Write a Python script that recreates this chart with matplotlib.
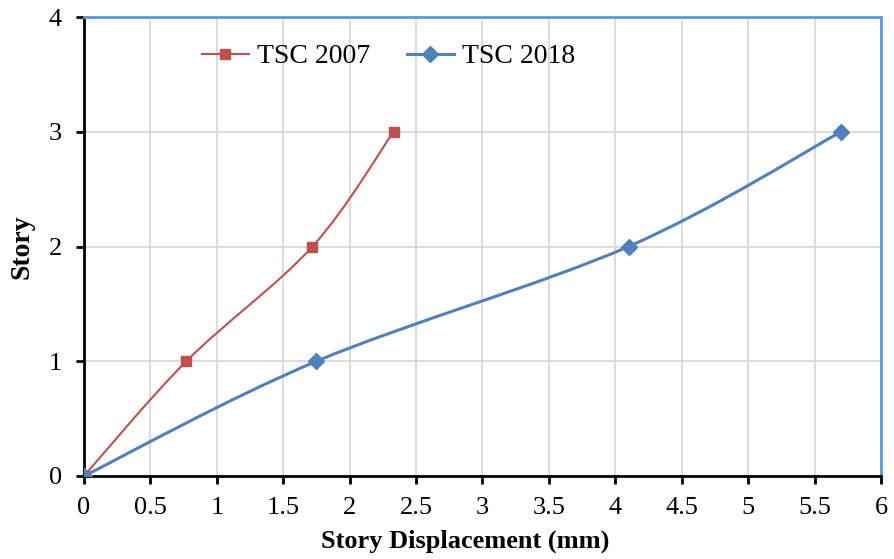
import matplotlib
matplotlib.use("Agg")
import matplotlib.pyplot as plt
from matplotlib.path import Path
from matplotlib.patches import PathPatch
from matplotlib.lines import Line2D

plt.rcParams['font.family'] = ['Liberation Serif', 'DejaVu Serif']

# data
stories = [0, 1, 2, 3]
disp_2007 = [0, 0.77, 1.72, 2.33]
disp_2018 = [0, 1.75, 4.1, 5.7]
x_ticks = [0, 0.5, 1, 1.5, 2, 2.5, 3, 3.5, 4, 4.5, 5, 5.5, 6]
x_tick_labels = ['0', '0.5', '1', '1.5', '2', '2.5', '3', '3.5', '4', '4.5', '5', '5.5', '6']
y_ticks = [0, 1, 2, 3, 4]

red = '#C0504D'
blue = '#4F81BD'


def smooth_path(xs, ys):
    # Excel-style smoothed line: cubic bezier segments through the points
    pts = list(zip(xs, ys))
    n = len(pts)
    verts = [pts[0]]
    codes = [Path.MOVETO]
    for i in range(n - 1):
        p0 = pts[i - 1] if i > 0 else pts[i]
        p1 = pts[i]
        p2 = pts[i + 1]
        p3 = pts[i + 2] if i + 2 < n else pts[i + 1]
        c1 = (p1[0] + (p2[0] - p0[0]) / 6, p1[1] + (p2[1] - p0[1]) / 6)
        c2 = (p2[0] - (p3[0] - p1[0]) / 6, p2[1] - (p3[1] - p1[1]) / 6)
        verts += [c1, c2, p2]
        codes += [Path.CURVE4] * 3
    return Path(verts, codes)


fig = plt.figure(figsize=(8.94, 5.59), dpi=100)
ax = fig.add_axes([84 / 894, 1 - 476 / 559, (881 - 84) / 894, (476 - 17) / 559])

ax.add_patch(PathPatch(smooth_path(disp_2018, stories), facecolor='none', edgecolor=blue, lw=2.2, zorder=3))
ax.add_patch(PathPatch(smooth_path(disp_2007, stories), facecolor='none', edgecolor=red, lw=1.5, zorder=4))
ax.plot(disp_2007, stories, ls='none', marker='s', ms=7, color=red, zorder=5)
ax.plot(disp_2018, stories, ls='none', marker='D', ms=8, color=blue, zorder=5)

ax.set_xlim(0, 6)
ax.set_ylim(0, 4)
ax.set_xticks(x_ticks)
ax.set_xticklabels(x_tick_labels)
ax.set_yticks(y_ticks)
ax.grid(True, color='#D9D9D9', lw=1.3)
ax.set_axisbelow(True)

for s in ['left', 'bottom']:
    ax.spines[s].set_color('black')
    ax.spines[s].set_linewidth(2)
for s in ['top', 'right']:
    ax.spines[s].set_color('#5B9BD5')
    ax.spines[s].set_linewidth(2)

ax.tick_params(axis='both', direction='out', length=6, width=2, labelsize=19, colors='black')
ax.tick_params(axis='x', pad=9)
ax.tick_params(axis='y', pad=10)

fig.text(465 / 894, 1 - 541 / 559, 'Story Displacement (mm)', fontsize=19, fontweight='bold',
         ha='center', va='center')
ax.set_ylabel('Story', fontsize=20, fontweight='bold', labelpad=10)

handles = [
    Line2D([], [], color=red, lw=1.5, marker='s', ms=7),
    Line2D([], [], color=blue, lw=2.2, marker='D', ms=8),
]
ax.legend(handles, ['TSC 2007', 'TSC 2018'], loc='upper left', bbox_to_anchor=(0.12, 0.99),
          ncol=2, frameon=False, fontsize=20, handlelength=1.7, handletextpad=0.3,
          columnspacing=1.3, borderpad=0.3)

fig.savefig('out.png', dpi=100)
